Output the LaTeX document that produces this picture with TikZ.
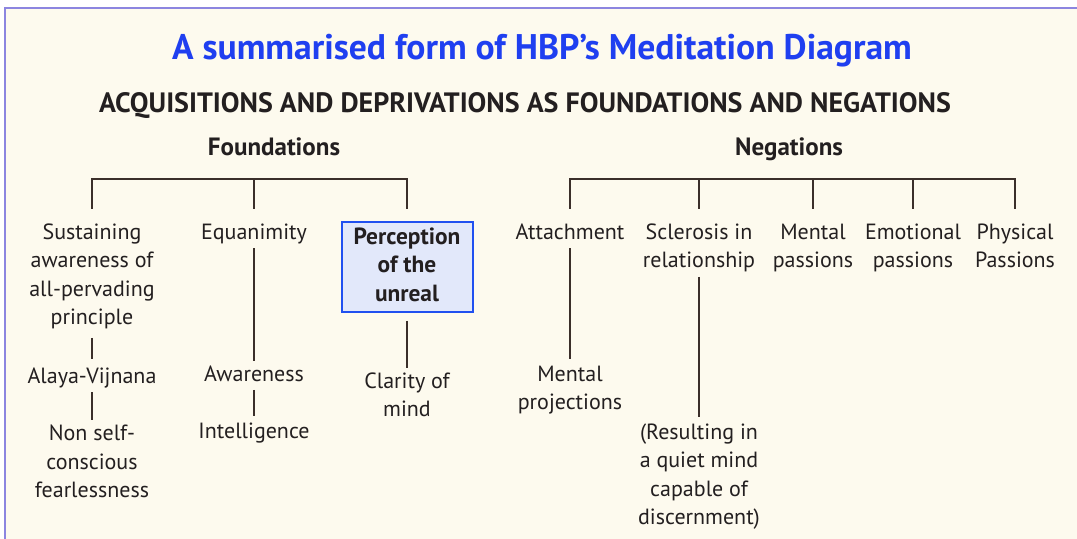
\documentclass[tikz,border=0pt]{standalone}
\usepackage{fontspec}
\setmainfont{PT Sans}
\usetikzlibrary{positioning}
\definecolor{cream}{HTML}{FDFAEE}
\definecolor{framec}{HTML}{8C85E0}
\definecolor{titleblue}{HTML}{1F3FF0}
\definecolor{boxfill}{HTML}{E2E8FA}
\definecolor{boxline}{HTML}{2050F0}
\definecolor{linec}{HTML}{3B2F2A}
\definecolor{inkc}{HTML}{231F20}

\begin{document}
\begin{tikzpicture}[x=0.5pt, y=-0.5pt,
            item/.style={anchor=north, inner sep=0pt, align=center, text=inkc,
            font=\fontsize{11}{14.25}\selectfont,
            execute at begin node=\strut, execute at end node=\strut},
            head/.style={anchor=base, inner sep=0pt, text=inkc, font=\fontsize{12.5}{15}\selectfont\bfseries},
            percbox/.style={item, anchor=center, draw=boxline, fill=boxfill, line width=1pt,
            minimum width=65.5pt, minimum height=45pt, font=\fontsize{11.7}{14.25}\selectfont\bfseries},
            link/.style={draw=linec, line width=0.7pt}]
            \useasboundingbox (0,0) rectangle (1077,539);
            \fill[white] (0,0) rectangle (1077,539);
            \fill[cream] (4,7) rectangle (1077,539);
            \draw[framec, line width=1pt] (5,539) -- (5,8) -- (1077,8);

            \node (title) [anchor=base, inner sep=0pt, text=titleblue, font=\fontsize{17.8}{21}\selectfont\bfseries] at (542,60) {A summarised form of HBP’s Meditation Diagram};
            \node (sub) [head, font=\fontsize{14}{16}\selectfont\bfseries] at (525,113) {ACQUISITIONS AND DEPRIVATIONS AS FOUNDATIONS AND NEGATIONS};
            \node (found) [head] at (274,156) {Foundations};
            \node (neg) [head] at (789,156) {Negations};

            % first row
            \node (sus) [item] at (92,219) {\strut Sustaining\\awareness of\\all-pervading\\principle};
            \node (equ) [item] at (254,219) {Equanimity};
            \node (per) [percbox] at (407,267) {\strut Perception\\of the\\unreal};
            \node (att) [item] at (570,219) {Attachment};
            \node (scl) [item] at (699,219) {\strut Sclerosis in\\relationship};
            \node (mpa) [item] at (813,219) {\strut Mental\\passions};
            \node (emo) [item] at (913,219) {\strut Emotional\\passions};
            \node (phy) [item] at (1015,219) {\strut Physical\\Passions};

            % lower rows
            \node (ala) [item, below=14.5pt of sus] {Alaya-Vijnana};
            \node (nsf) [item, below=14.2pt of ala] {\strut Non self-\\conscious\\fearlessness};
            \node (awa) [item, below=56.2pt of equ] {Awareness};
            \node (int) [item, below=14.2pt of awa] {Intelligence};
            \node (cla) [item, below=27.5pt of per] {\strut Clarity of\\mind};
            \node (mpr) [item, below=56.2pt of att] {\strut Mental\\projections};
            \node (res) [item, below=71pt of scl] {\strut (Resulting in\\a quiet mind\\capable of\\discernment)};

            % brackets
            \coordinate (bar) at (0,179);
            \coordinate (drop) at (0,209);
            \draw[link] (sus.north |- drop) |- (per.north |- bar) -- (per.north |- drop);
            \draw[link] (equ.north |- bar) -- (equ.north |- drop);
            \draw[link] (att.north |- drop) |- (phy.north |- bar) -- (phy.north |- drop);
            \foreach \n in {scl,mpa,emo}
                \draw[link] (\n.north |- bar) -- (\n.north |- drop);

            \draw[link, shorten <=2pt, shorten >=2pt] (sus) -- (ala);
            \draw[link] (ala) -- (nsf);
            \draw[link] (equ) -- (awa);
            \draw[link, shorten >=1pt] (awa) -- (int);
            \draw[link, shorten <=4pt] (per) -- (cla);
            \draw[link, shorten >=1pt] (att) -- (mpr);
            \draw[link, shorten >=1pt] (scl) -- (res);
        \end{tikzpicture}
\end{document}
